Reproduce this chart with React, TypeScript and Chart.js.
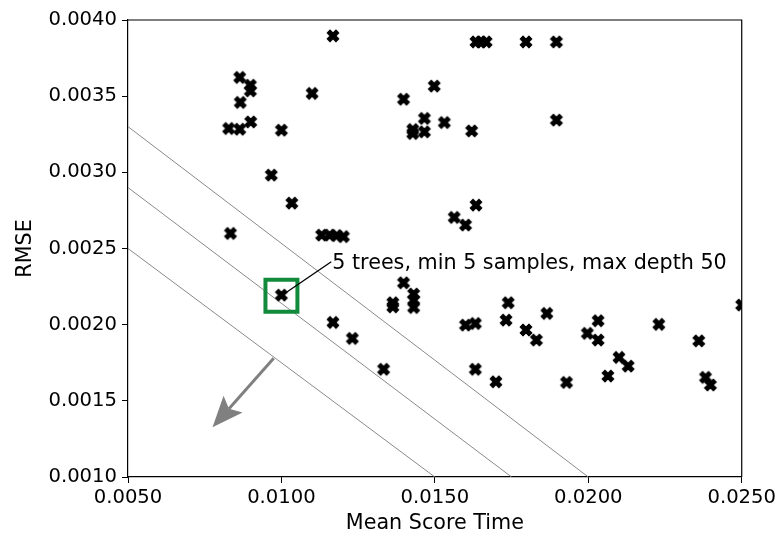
import { useEffect, useRef } from 'react';
import { Chart, registerables } from 'chart.js';

Chart.register(...registerables);

// ---- data ----
const meanScoreTime = [
  0.01168, 0.00864, 0.00899, 0.00899, 0.00866, 0.00828, 0.00864, 0.00900, 0.01000, 0.01100,
  0.00967, 0.01034, 0.00834, 0.01131, 0.01157, 0.01180, 0.01202, 0.01000, 0.01168, 0.01231,
  0.01333, 0.01398, 0.01498, 0.01466, 0.01428, 0.01428, 0.01466, 0.01531, 0.01620, 0.01634,
  0.01650, 0.01667, 0.01797, 0.01896, 0.01896, 0.01634, 0.01563, 0.01600, 0.01398, 0.01363,
  0.01363, 0.01431, 0.01431, 0.01431, 0.01600, 0.01632, 0.01739, 0.01732, 0.01865, 0.01797,
  0.01831, 0.01632, 0.01699, 0.02032, 0.01997, 0.02032, 0.02230, 0.02360, 0.02100, 0.02130,
  0.02064, 0.01929, 0.02382, 0.02398, 0.02500,
];
const rmse = [
  0.003896, 0.003623, 0.003572, 0.003535, 0.003459, 0.003288, 0.003283, 0.003331, 0.003277, 0.003518,
  0.002982, 0.002798, 0.002599, 0.002588, 0.002588, 0.002585, 0.002578, 0.002194, 0.002015, 0.001910,
  0.001707, 0.003480, 0.003566, 0.003354, 0.003281, 0.003255, 0.003266, 0.003327, 0.003272, 0.003856,
  0.003856, 0.003856, 0.003856, 0.003856, 0.003343, 0.002785, 0.002704, 0.002654, 0.002275, 0.002144,
  0.002117, 0.002201, 0.002161, 0.002113, 0.001997, 0.002008, 0.002144, 0.002030, 0.002074, 0.001965,
  0.001899, 0.001707, 0.001625, 0.002026, 0.001943, 0.001899, 0.002002, 0.001894, 0.001785, 0.001728,
  0.001663, 0.001621, 0.001654, 0.001604, 0.002129,
];
const xTicks = [0.005, 0.01, 0.015, 0.02, 0.025];
const yTicks = [0.001, 0.0015, 0.002, 0.0025, 0.003, 0.0035, 0.004];

const highlightX = 0.0100;
const highlightY = 0.00219;
const annotationText = '5 trees, min 5 samples, max depth 50';
const annotationX = 0.011624;
const annotationY = 0.002413;

// iso-tradeoff lines: [x0, y0, x1, y1]
const line1 = [0.005, 0.0033, 0.02, 0.001];
const line2 = [0.005, 0.0029, 0.0175, 0.001];
const line3 = [0.005, 0.0025, 0.015, 0.001];

const arrowFrom = [0.009748, 0.001779];
const arrowTo = [0.007754, 0.001326];

const FONT = 'DejaVu Sans';
const TICK_FS = 19.6;
const TEXT_FS = 20.7;

function makeXMarker(size: number) {
  const c = document.createElement('canvas');
  const dim = 18;
  c.width = dim;
  c.height = dim;
  const g = c.getContext('2d')!;
  g.translate(dim / 2, dim / 2);
  g.rotate(Math.PI / 4);
  const a = size / 2;
  const b = size / 6;
  const pts = [
    [-b, -a], [b, -a], [b, -b], [a, -b], [a, b], [b, b],
    [b, a], [-b, a], [-b, b], [-a, b], [-a, -b], [-b, -b],
  ];
  g.beginPath();
  pts.forEach(([px, py], i) => (i ? g.lineTo(px, py) : g.moveTo(px, py)));
  g.closePath();
  g.fillStyle = '#000';
  g.fill();
  g.lineWidth = 1;
  g.lineJoin = 'round';
  g.strokeStyle = '#000';
  g.stroke();
  return c;
}

const overlayPlugin = {
  id: 'overlay',
  afterDatasetsDraw(chart: any) {
    const { ctx, chartArea: a, scales } = chart;
    const sx = scales.x;
    const sy = scales.y;
    ctx.save();
    // top and right spines
    ctx.strokeStyle = '#000';
    ctx.lineWidth = 1.2;
    ctx.beginPath();
    ctx.moveTo(a.left, a.top);
    ctx.lineTo(a.right, a.top);
    ctx.lineTo(a.right, a.bottom);
    ctx.stroke();

    // annotation
    const px = sx.getPixelForValue(highlightX);
    const py = sy.getPixelForValue(highlightY);
    const tx = sx.getPixelForValue(annotationX);
    const ty = sy.getPixelForValue(annotationY);
    ctx.lineWidth = 1.3;
    ctx.beginPath();
    ctx.moveTo(px, py);
    ctx.lineTo(tx, ty);
    ctx.stroke();
    ctx.font = `${TEXT_FS}px "${FONT}"`;
    ctx.fillStyle = '#000';
    ctx.textBaseline = 'alphabetic';
    ctx.textAlign = 'left';
    ctx.fillText(annotationText, tx + 1, ty + 7.5);

    // arrow
    const x0 = sx.getPixelForValue(arrowFrom[0]);
    const y0 = sy.getPixelForValue(arrowFrom[1]);
    const x1 = sx.getPixelForValue(arrowTo[0]);
    const y1 = sy.getPixelForValue(arrowTo[1]);
    const dx = x1 - x0;
    const dy = y1 - y0;
    const len = Math.hypot(dx, dy);
    const ux = dx / len;
    const uy = dy / len;
    const nx = -uy;
    const ny = ux;
    const L = 31;
    const W = 12.7;
    const bx = x1 - ux * L;
    const by = y1 - uy * L;
    const notchX = x1 - ux * L * 0.8;
    const notchY = y1 - uy * L * 0.8;
    ctx.strokeStyle = '#808080';
    ctx.fillStyle = '#808080';
    ctx.lineWidth = 3;
    ctx.beginPath();
    ctx.moveTo(x0, y0);
    ctx.lineTo(notchX, notchY);
    ctx.stroke();
    ctx.beginPath();
    ctx.moveTo(x1, y1);
    ctx.lineTo(bx + nx * W, by + ny * W);
    ctx.lineTo(notchX, notchY);
    ctx.lineTo(bx - nx * W, by - ny * W);
    ctx.closePath();
    ctx.fill();
    ctx.restore();
  },
};

function lineData(l: number[]) {
  return [
    { x: l[0], y: l[1] },
    { x: l[2], y: l[3] },
  ];
}

export default function App() {
  const ref = useRef<HTMLCanvasElement | null>(null);

  useEffect(() => {
    if (!ref.current) return;
    const marker = makeXMarker(12.5);
    const points = meanScoreTime.map((x, i) => ({ x, y: rmse[i] }));
    const tickFont = { family: FONT, size: TICK_FS };
    const titleFont = { family: FONT, size: TEXT_FS };
    const chart = new Chart(ref.current, {
      type: 'scatter',
      data: {
        datasets: [
          {
            label: 'models',
            data: points,
            pointStyle: marker as any,
            pointRadius: 6,
            pointHoverRadius: 6,
            clip: 0,
          } as any,
          {
            label: 'selected',
            data: [{ x: highlightX, y: highlightY }],
            pointStyle: 'rect',
            pointRadius: 22.6,
            pointHoverRadius: 22.6,
            borderColor: '#128a3c',
            borderWidth: 4,
            backgroundColor: 'rgba(0,0,0,0)',
            clip: false,
          } as any,
          ...[line1, line2, line3].map((l, i) => ({
            type: 'line' as const,
            label: 'tradeoff ' + (i + 1),
            data: lineData(l),
            showLine: true,
            borderColor: '#8a8a8a',
            borderWidth: 1,
            pointRadius: 0,
            fill: false,
          })),
        ],
      },
      options: {
        responsive: false,
        animation: false,
        events: [],
        layout: { autoPadding: false, padding: { top: 20, right: 36, left: 0, bottom: 0 } },
        plugins: {
          legend: { display: false },
          tooltip: { enabled: false },
        },
        scales: {
          x: {
            type: 'linear',
            position: 'bottom',
            min: 0.005,
            max: 0.025,
            afterBuildTicks: (s: any) => {
              s.ticks = xTicks.map((v) => ({ value: v }));
            },
            afterFit: (s: any) => {
              s.height = 59;
            },
            ticks: {
              font: tickFont,
              color: '#000',
              padding: 3,
              maxRotation: 0,
              autoSkip: false,
              callback: (v: any) => Number(v).toFixed(4),
            },
            grid: {
              drawOnChartArea: false,
              drawTicks: true,
              tickLength: 6,
              color: '#000',
              lineWidth: 1,
            },
            border: { display: true, color: '#000', width: 1.2 },
            title: {
              display: true,
              text: 'Mean Score Time',
              font: titleFont,
              color: '#000',
              padding: { top: 1, bottom: 0 },
            },
          },
          y: {
            type: 'linear',
            min: 0.001,
            max: 0.004,
            afterBuildTicks: (s: any) => {
              s.ticks = yTicks.map((v) => ({ value: v }));
            },
            afterFit: (s: any) => {
              s.width = 128;
            },
            ticks: {
              font: tickFont,
              color: '#000',
              padding: 5,
              autoSkip: false,
              callback: (v: any) => Number(v).toFixed(4),
            },
            grid: {
              drawOnChartArea: false,
              drawTicks: true,
              tickLength: 6,
              color: '#000',
              lineWidth: 1,
            },
            border: { display: true, color: '#000', width: 1.2 },
            title: {
              display: true,
              text: 'RMSE',
              font: titleFont,
              color: '#000',
              padding: { top: 13, bottom: 0 },
            },
          },
        },
      },
      plugins: [overlayPlugin],
    });
    return () => chart.destroy();
  }, []);

  return (
    <div style={{ position: 'absolute', left: 0, top: 0, width: 779, height: 536, background: '#fff' }}>
      <canvas ref={ref} width={779} height={536} style={{ display: 'block' }} />
    </div>
  );
}
